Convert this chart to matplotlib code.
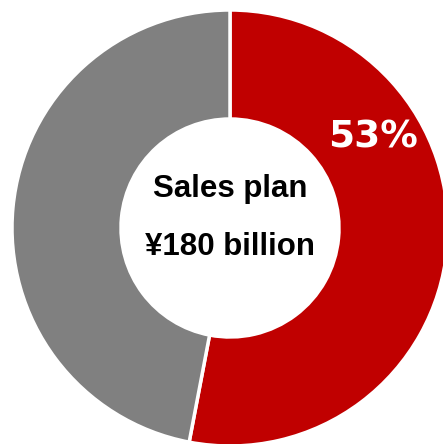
import matplotlib.pyplot as plt

# sales plan split
labels = ["Plan share", "Remainder"]
shares = [53, 47]
colors = ["#C00000", "#808080"]
center_lines = ["Sales plan", "¥180 billion"]

fig = plt.figure(figsize=(4.43, 4.44), dpi=100)
ax = fig.add_axes([0, 0, 1, 1])

ax.pie(shares, colors=colors, startangle=90, counterclock=False,
       radius=1.0, wedgeprops=dict(width=0.5, edgecolor="white", linewidth=2.5))

# percentage label on the red segment
ax.text(0.656, 0.367, f"{shares[0]}%", color="white", fontsize=27,
        fontweight="bold", family="DejaVu Sans", ha="center", va="baseline")

# centre caption
ax.text(0.0, 0.14, center_lines[0], color="black", fontsize=22.5,
        fontweight="bold", family="Liberation Sans", ha="center", va="baseline")
ax.text(0.0, -0.125, center_lines[1], color="black", fontsize=22.5,
        fontweight="bold", family="Liberation Sans", ha="center", va="baseline")

# keep the ring slightly cropped on the right edge
ax.set_xlim(-230 / 218, (443 - 230) / 218)
ax.set_ylim(-(444 - 228) / 218, 228 / 218)
ax.set_aspect("equal")
ax.axis("off")

fig.savefig("out.png", dpi=100)
